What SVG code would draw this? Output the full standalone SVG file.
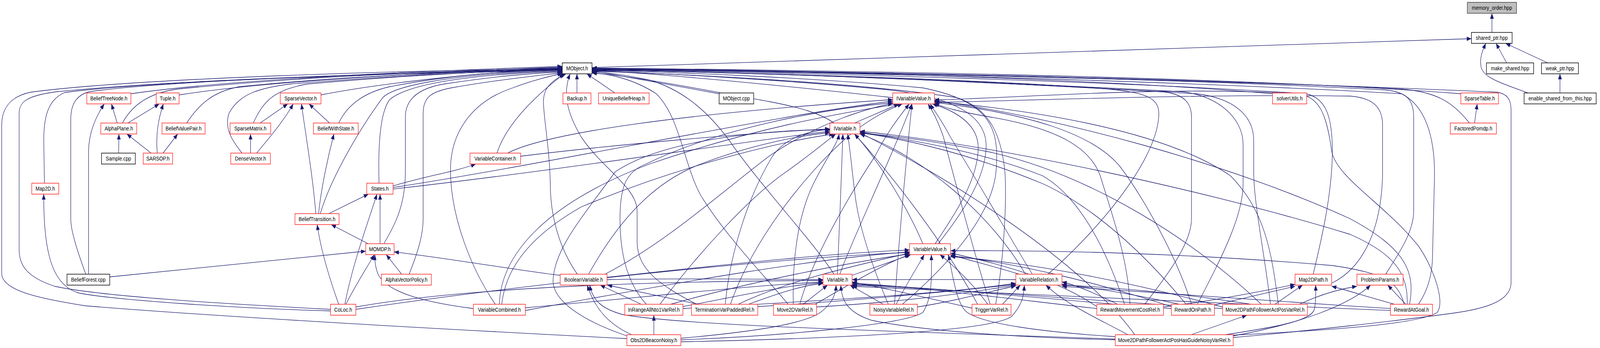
<svg xmlns="http://www.w3.org/2000/svg" width="4675" height="891" viewBox="0 0 4675 891">
<style>
.e{fill:none;stroke:#191970;stroke-width:1.3;marker-end:url(#a)}
.n rect{fill:#fff;stroke:#ff2020;stroke-width:1.5}
.n.k rect{stroke:#000}
.n.g rect{stroke:#404040;stroke-width:2}
.n.r rect{fill:#bfbfbf;stroke:#404040}
text{font-family:"Liberation Sans",Arial,sans-serif;font-size:14px;fill:#000;text-anchor:middle}
</style>
<defs>
<marker id="a" viewBox="0 0 10 10" refX="10" refY="5" markerWidth="14" markerHeight="11" markerUnits="userSpaceOnUse" orient="auto" preserveAspectRatio="none"><path d="M0,0L10,5L0,10z" fill="#191970"/></marker>
</defs>
<rect width="4675" height="891" fill="#fff"/>
<g id="diagram" transform="scale(0.875,1)">
<g id="edges">
<path class="e" d="M4365,83 L4365,34"/>
<path class="e" d="M1732,173 L4305,99"/>
<path class="e" d="M4408,161 L4377,111"/>
<path class="e" d="M4528,161 L4405,111"/>
<path class="e" d="M4471,238 C4400,215 4338,200 4333,170 C4328,145 4340,125 4347,111"/>
<path class="e" d="M4564,238 L4564,189"/>
<path class="e" d="M383,240 C700,200 1300,180 1645,170"/>
<path class="e" d="M524,243 C800,205 1300,184 1645,172"/>
<path class="e" d="M358,315 C380,280 420,240 520,228 C900,195 1300,182 1645,174"/>
<path class="e" d="M546,315 C580,270 620,235 700,222 C1000,195 1350,184 1645,176"/>
<path class="e" d="M741,315 C770,260 800,230 900,215 C1200,192 1400,184 1645,177"/>
<path class="e" d="M708,392 C680,360 655,330 670,290 C700,240 760,225 850,215 C1200,190 1400,184 1645,178"/>
<path class="e" d="M939,243 C1100,215 1400,185 1645,175"/>
<path class="e" d="M991,315 C1010,280 1050,240 1140,222 C1300,195 1450,182 1645,179"/>
<path class="e" d="M1688,238 L1688,189"/>
<path class="e" d="M1799,238 L1717,189"/>
<path class="e" d="M2104,240 L1732,181"/>
<path class="e" d="M2612,250 C2300,220 1950,190 1732,180"/>
<path class="e" d="M2440,315 C2400,290 2340,275 2250,260 C2000,220 1850,195 1732,187"/>
<path class="e" d="M3723,240 C3200,200 2300,180 1732,175"/>
<path class="e" d="M4274,240 C3600,195 2400,180 1732,174"/>
<path class="e" d="M4299,315 C4250,260 4200,235 4100,228 C3500,200 2400,182 1732,175"/>
<path class="e" d="M130,469 L128,360 C128,300 140,255 189,237 C400,210 1200,185 1645,177"/>
<path class="e" d="M251,702 C225,640 207,590 207,560 L207,307 C207,270 220,245 260,235 C500,205 1200,185 1645,178"/>
<path class="e" d="M967,792 C700,780 300,760 160,733 C80,710 56,680 56,640 L56,290 C56,260 80,245 164,235 C500,205 1200,185 1645,179"/>
<path class="e" d="M1834,867 C1500,852 700,815 250,783 C120,765 5,745 5,700 L5,320 C5,270 40,245 90,236 C400,200 1200,180 1645,176"/>
<path class="e" d="M937,547 C970,450 1060,320 1120,250 C1150,222 1300,190 1645,180"/>
<path class="e" d="M1109,469 C1106,380 1110,290 1140,255 C1200,210 1400,190 1645,182"/>
<path class="e" d="M1123,624 C1160,570 1186,520 1186,440 L1186,300 C1186,250 1230,225 1300,215 C1450,195 1550,188 1645,184"/>
<path class="e" d="M1197,702 C1225,640 1238,600 1238,560 L1238,290 C1238,250 1260,235 1320,225 C1450,205 1560,195 1645,186"/>
<path class="e" d="M1454,392 C1480,320 1560,250 1650,189"/>
<path class="e" d="M1449,779 C1380,690 1320,560 1318,440 C1316,340 1380,260 1500,225 C1560,205 1610,195 1645,188"/>
<path class="e" d="M1689,702 C1640,640 1610,560 1610,470 C1608,380 1590,300 1590,260 C1590,225 1615,205 1656,189"/>
<path class="e" d="M2038,779 C1930,730 1865,690 1864,620 L1864,540 C1864,480 1760,430 1700,350 C1660,290 1645,240 1668,189"/>
<path class="e" d="M2306,779 C2230,700 2120,600 2050,500 C2000,420 1990,300 1920,240 C1850,200 1780,190 1732,186"/>
<path class="e" d="M2640,779 C2760,690 2900,560 2914,440 C2925,330 2900,260 2700,225 C2400,200 2000,185 1732,180"/>
<path class="e" d="M2913,779 C2940,650 2945,500 2940,440 C2930,350 2900,280 2800,250 C2500,210 2000,190 1732,182"/>
<path class="e" d="M3066,702 C3200,600 3380,420 3390,300 C3395,250 3360,235 3200,225 C2800,200 2100,185 1732,178"/>
<path class="e" d="M2440,702 C2380,620 2250,500 2150,380 C2080,290 2000,230 1900,205 C1820,190 1770,185 1732,184"/>
<path class="e" d="M2745,624 C2820,540 2880,460 2885,380 C2890,300 2800,250 2600,230 C2300,205 1950,188 1732,181"/>
<path class="e" d="M3842,702 C3870,600 3895,500 3898,400 C3900,300 3880,250 3820,240 C3300,210 2400,186 1732,178"/>
<path class="e" d="M4054,702 C4100,640 4136,590 4136,540 L4136,300 C4136,250 4110,235 4050,230 C3400,200 2400,182 1732,176"/>
<path class="e" d="M4150,779 C4180,740 4190,700 4191,660 L4197,450 C4198,350 4170,270 4100,240 C3400,205 2400,184 1732,177"/>
<path class="e" d="M3608,864 C3800,850 4100,820 4250,802 C4350,790 4421,770 4421,723 L4421,283 C4421,255 4410,240 4380,236 C3600,205 2400,183 1732,176"/>
<path class="e" d="M3349,779 C3420,700 3486,620 3486,560 L3486,300 C3486,260 3460,240 3400,235 C2800,205 2200,185 1732,179"/>
<path class="e" d="M3503,779 C3580,650 3637,550 3637,470 L3637,370 C3637,300 3560,245 3460,235 C2800,205 2200,185 1732,179"/>
<path class="e" d="M3717,779 C3700,650 3668,520 3668,440 L3668,360 C3668,290 3600,250 3500,240 C2800,205 2200,185 1732,179"/>
<path class="e" d="M343,315 L326,266"/>
<path class="e" d="M374,315 L466,266"/>
<path class="e" d="M347,392 L348,343"/>
<path class="e" d="M442,392 L371,343"/>
<path class="e" d="M460,392 C455,340 465,300 478,266"/>
<path class="e" d="M477,392 L520,343"/>
<path class="e" d="M733,392 L733,343"/>
<path class="e" d="M751,392 C790,350 830,310 858,266"/>
<path class="e" d="M761,315 L842,266"/>
<path class="e" d="M964,315 L904,266"/>
<path class="e" d="M924,547 C915,450 895,350 882,266"/>
<path class="e" d="M932,547 C940,480 960,400 977,343"/>
<path class="e" d="M962,547 L1078,497"/>
<path class="e" d="M4314,315 L4322,266"/>
<path class="e" d="M967,796 C700,790 330,768 230,750 C150,730 127,640 128,497"/>
<path class="e" d="M259,702 L259,390 C259,340 280,300 305,266"/>
<path class="e" d="M321,709 L1070,643"/>
<path class="e" d="M1485,392 C1600,340 2000,290 2612,255"/>
<path class="e" d="M1523,400 C1800,370 2200,340 2428,330"/>
<path class="e" d="M1150,476 C1250,450 1330,440 1392,420"/>
<path class="e" d="M1150,480 C1600,420 2300,290 2612,259"/>
<path class="e" d="M1150,484 C1600,440 2200,360 2428,336"/>
<path class="e" d="M991,779 C975,740 940,650 928,575"/>
<path class="e" d="M1009,779 C1030,680 1080,560 1103,497"/>
<path class="e" d="M1012,779 C1040,730 1070,690 1095,652"/>
<path class="e" d="M1041,786 C1400,730 2000,720 2408,718"/>
<path class="e" d="M1041,792 C1600,720 2300,660 2661,646"/>
<path class="e" d="M1112,624 L1112,497"/>
<path class="e" d="M1077,624 L969,575"/>
<path class="e" d="M1175,702 L1130,652"/>
<path class="e" d="M1385,790 C1250,775 1130,750 1105,700 C1097,680 1096,665 1097,652"/>
<path class="e" d="M1461,779 C1465,650 1600,520 1900,420 C2200,330 2450,290 2630,266"/>
<path class="e" d="M1468,779 C1480,680 1560,600 1700,530 C2000,420 2300,360 2440,343"/>
<path class="e" d="M1537,788 C1900,760 2200,730 2408,722"/>
<path class="e" d="M1537,795 C2000,720 2400,660 2661,645"/>
<path class="e" d="M1639,705 C1500,690 1300,660 1153,645"/>
<path class="e" d="M1722,702 C1800,580 1900,470 2050,420 C2200,370 2350,345 2428,340"/>
<path class="e" d="M1770,702 C1950,620 2100,500 2250,400 C2400,310 2550,275 2612,265"/>
<path class="e" d="M1776,710 C2100,680 2400,650 2661,640"/>
<path class="e" d="M1776,716 C2000,712 2250,715 2408,716"/>
<path class="e" d="M1876,779 L1756,730"/>
<path class="e" d="M1891,779 C1830,720 1814,640 1814,560 C1814,480 1830,440 1890,420 C2100,330 2400,280 2612,263"/>
<path class="e" d="M1931,779 C2050,640 2200,500 2300,440 C2380,390 2420,360 2445,343"/>
<path class="e" d="M1998,785 C2150,760 2300,730 2408,724"/>
<path class="e" d="M1998,790 C2400,770 2800,750 2972,725"/>
<path class="e" d="M1962,779 C2200,720 2500,670 2661,650"/>
<path class="e" d="M2043,779 L1777,730"/>
<path class="e" d="M2122,779 C2135,650 2190,500 2260,400 C2300,350 2370,335 2428,331"/>
<path class="e" d="M2137,779 C2200,620 2350,450 2480,350 C2550,300 2600,280 2640,266"/>
<path class="e" d="M2160,779 C2300,720 2500,680 2661,648"/>
<path class="e" d="M2190,779 C2280,750 2350,730 2408,726"/>
<path class="e" d="M2217,785 C2500,770 2800,745 2972,728"/>
<path class="e" d="M2321,779 C2318,680 2330,560 2380,470 C2420,400 2450,370 2455,343"/>
<path class="e" d="M2350,779 L2421,730"/>
<path class="e" d="M2389,786 C2700,770 2900,740 2972,730"/>
<path class="e" d="M2340,779 C2380,650 2500,480 2560,400 C2600,330 2640,290 2660,266"/>
<path class="e" d="M2385,779 C2500,720 2600,670 2661,652"/>
<path class="e" d="M2599,779 C2560,700 2520,600 2505,520 C2495,460 2490,400 2480,343"/>
<path class="e" d="M2584,779 L2487,730"/>
<path class="e" d="M2617,779 C2630,620 2650,420 2668,266"/>
<path class="e" d="M2622,779 C2650,730 2680,690 2704,652"/>
<path class="e" d="M2684,786 C2800,770 2900,745 2972,732"/>
<path class="e" d="M2890,779 C2840,720 2790,680 2750,652"/>
<path class="e" d="M2897,779 C2850,650 2790,450 2760,350 C2740,300 2725,280 2715,266"/>
<path class="e" d="M2933,779 L2985,730"/>
<path class="e" d="M2844,789 C2700,760 2600,740 2493,722"/>
<path class="e" d="M2860,779 C2750,600 2580,420 2500,343"/>
<path class="e" d="M2972,716 C2800,715 2600,716 2493,716"/>
<path class="e" d="M2982,702 C2900,680 2830,665 2781,652"/>
<path class="e" d="M3020,702 C2950,600 2850,450 2780,350 C2750,300 2730,280 2722,266"/>
<path class="e" d="M3000,702 C2900,550 2700,400 2516,343"/>
<path class="e" d="M2493,705 L2665,652"/>
<path class="e" d="M2450,702 C2455,600 2462,450 2466,343"/>
<path class="e" d="M2457,702 C2500,600 2600,420 2668,266"/>
<path class="e" d="M2736,624 C2800,540 2860,460 2862,380 C2863,320 2800,285 2728,266"/>
<path class="e" d="M2700,624 C2650,520 2560,400 2500,343"/>
<path class="e" d="M2500,315 L2630,266"/>
<path class="e" d="M3608,858 C3900,845 4150,830 4205,800 C4230,770 4190,680 4150,630 C4050,520 3900,450 3895,380 C3880,290 3860,250 3800,240 C3400,220 3000,250 2734,256"/>
<path class="e" d="M3896,725 C3980,690 4040,600 4045,450 L4045,320 C4045,270 4010,250 3950,246 C3500,240 3000,258 2734,262"/>
<path class="e" d="M3585,857 C3750,835 3840,820 3846,790 C3850,770 3850,750 3849,730"/>
<path class="e" d="M3485,857 L3648,807"/>
<path class="e" d="M3608,860 C3800,830 3950,780 4010,730"/>
<path class="e" d="M3263,868 C2700,850 2000,835 1820,805 C1760,790 1735,770 1725,730"/>
<path class="e" d="M3263,870 C3000,865 2700,848 2550,820 C2480,800 2462,770 2460,730"/>
<path class="e" d="M3300,857 C3200,810 3120,780 3060,730"/>
<path class="e" d="M3263,862 C3050,850 2880,830 2830,800 C2800,780 2790,720 2775,652"/>
<path class="e" d="M3320,857 C3150,650 2700,420 2516,340"/>
<path class="e" d="M1913,857 L1913,807"/>
<path class="e" d="M1848,857 C1780,830 1740,790 1718,730"/>
<path class="e" d="M1834,860 C1700,820 1620,770 1618,720 C1620,640 1700,560 1800,440 C1950,350 2300,330 2428,333"/>
<path class="e" d="M1992,870 C2300,860 2650,830 2700,800 C2730,760 2725,700 2725,652"/>
<path class="e" d="M1992,866 C2200,850 2350,830 2400,800 C2430,780 2445,760 2446,730"/>
<path class="e" d="M1992,875 C2400,868 2900,850 2960,810 C2990,780 2995,760 2997,730"/>
<path class="e" d="M3306,779 C3300,660 3250,540 3219,450 C3190,380 3100,330 2900,300 C2800,285 2760,275 2734,264"/>
<path class="e" d="M3290,779 C3230,620 3150,500 3050,450 C2850,380 2600,350 2516,338"/>
<path class="e" d="M3270,779 C3200,750 3150,730 3107,722"/>
<path class="e" d="M3209,790 C3000,770 2700,735 2493,725"/>
<path class="e" d="M3209,785 C3100,720 2950,680 2781,648"/>
<path class="e" d="M3404,786 C3550,770 3700,745 3789,728"/>
<path class="e" d="M3486,779 C3440,650 3340,500 3280,430 C3200,340 3000,290 2734,262"/>
<path class="e" d="M3470,779 C3350,650 3200,530 3050,470 C2800,380 2600,350 2516,340"/>
<path class="e" d="M3450,779 C3300,750 3180,735 3107,728"/>
<path class="e" d="M3427,790 C3100,770 2750,735 2493,728"/>
<path class="e" d="M3427,785 C3200,720 2950,670 2781,655"/>
<path class="e" d="M3553,781 L3789,733"/>
<path class="e" d="M3730,779 L3811,730"/>
<path class="e" d="M3802,779 C3860,755 3920,740 3970,733"/>
<path class="e" d="M3690,779 C3500,620 3200,450 2900,390 C2700,355 2580,345 2516,341"/>
<path class="e" d="M3660,779 C3450,750 3250,735 3107,730"/>
<path class="e" d="M3577,790 C3200,770 2800,740 2493,730"/>
<path class="e" d="M3577,786 C3300,720 3000,670 2781,657"/>
<path class="e" d="M3740,779 C3720,640 3700,540 3600,450 C3400,330 3000,280 2734,260"/>
<path class="e" d="M4080,779 C4000,760 3950,745 3896,733"/>
<path class="e" d="M4113,779 L4060,730"/>
<path class="e" d="M4108,779 C4090,720 4050,700 3900,680 C3500,650 3100,640 2781,642"/>
<path class="e" d="M4117,779 C4120,700 4080,650 3950,600 C3500,480 2900,370 2516,336"/>
<path class="e" d="M4124,779 C4140,700 4120,640 3950,560 C3600,420 3100,300 2734,258"/>
<path class="e" d="M4068,790 C3700,770 3300,745 3107,733"/>
<path class="e" d="M4068,795 C3500,775 2900,745 2493,733"/>
</g>
<g id="memory_order_hpp" class="n r"><rect x="4293" y="6" width="144" height="28"/><text x="4365" y="25">memory_order.hpp</text></g>
<g id="shared_ptr_hpp" class="n k"><rect x="4305" y="83" width="119" height="28"/><text x="4364.5" y="102">shared_ptr.hpp</text></g>
<g id="make_shared_hpp" class="n k"><rect x="4349" y="161" width="138" height="28"/><text x="4418" y="180">make_shared.hpp</text></g>
<g id="weak_ptr_hpp" class="n k"><rect x="4510" y="161" width="108" height="28"/><text x="4564" y="180">weak_ptr.hpp</text></g>
<g id="enable_shared_from_this_hpp" class="n k"><rect x="4459" y="238" width="211" height="28"/><text x="4564.5" y="257">enable_shared_from_this.hpp</text></g>
<g id="MObject_h" class="n k"><rect x="1645" y="161" width="87" height="28"/><text x="1688.5" y="180">MObject.h</text></g>
<g id="BeliefTreeNode_h" class="n"><rect x="254" y="238" width="129" height="28"/><text x="318.5" y="257">BeliefTreeNode.h</text></g>
<g id="Tuple_h" class="n"><rect x="457" y="238" width="67" height="28"/><text x="490.5" y="257">Tuple.h</text></g>
<g id="SparseVector_h" class="n"><rect x="820" y="238" width="119" height="28"/><text x="879.5" y="257">SparseVector.h</text></g>
<g id="Backup_h" class="n"><rect x="1647" y="238" width="82" height="28"/><text x="1688" y="257">Backup.h</text></g>
<g id="UniqueBeliefHeap_h" class="n"><rect x="1751" y="238" width="148" height="28"/><text x="1825" y="257">UniqueBeliefHeap.h</text></g>
<g id="MObject_cpp" class="n g"><rect x="2104" y="238" width="101" height="28"/><text x="2154.5" y="257">MObject.cpp</text></g>
<g id="IVariableValue_h" class="n"><rect x="2612" y="238" width="122" height="28"/><text x="2673" y="257">IVariableValue.h</text></g>
<g id="solverUtils_h" class="n"><rect x="3723" y="238" width="100" height="28"/><text x="3773" y="257">solverUtils.h</text></g>
<g id="SparseTable_h" class="n"><rect x="4274" y="238" width="110" height="28"/><text x="4329" y="257">SparseTable.h</text></g>
<g id="AlphaPlane_h" class="n"><rect x="295" y="315" width="105" height="28"/><text x="347.5" y="334">AlphaPlane.h</text></g>
<g id="BeliefValuePair_h" class="n"><rect x="474" y="315" width="126" height="28"/><text x="537" y="334">BeliefValuePair.h</text></g>
<g id="SparseMatrix_h" class="n"><rect x="673" y="315" width="119" height="28"/><text x="732.5" y="334">SparseMatrix.h</text></g>
<g id="BeliefWithState_h" class="n"><rect x="917" y="315" width="131" height="28"/><text x="982.5" y="334">BeliefWithState.h</text></g>
<g id="IVariable_h" class="n"><rect x="2428" y="315" width="88" height="28"/><text x="2472" y="334">IVariable.h</text></g>
<g id="FactoredPomdp_h" class="n"><rect x="4243" y="315" width="135" height="28"/><text x="4310.5" y="334">FactoredPomdp.h</text></g>
<g id="Sample_cpp" class="n g"><rect x="297" y="392" width="99" height="28"/><text x="346.5" y="411">Sample.cpp</text></g>
<g id="SARSOP_h" class="n"><rect x="419" y="392" width="86" height="28"/><text x="462" y="411">SARSOP.h</text></g>
<g id="DenseVector_h" class="n"><rect x="675" y="392" width="116" height="28"/><text x="733" y="411">DenseVector.h</text></g>
<g id="VariableContainer_h" class="n"><rect x="1375" y="392" width="148" height="28"/><text x="1449" y="411">VariableContainer.h</text></g>
<g id="Map2D_h" class="n"><rect x="93" y="469" width="79" height="28"/><text x="132.5" y="488">Map2D.h</text></g>
<g id="States_h" class="n"><rect x="1073" y="469" width="77" height="28"/><text x="1111.5" y="488">States.h</text></g>
<g id="BeliefTransition_h" class="n"><rect x="863" y="547" width="129" height="28"/><text x="927.5" y="566">BeliefTransition.h</text></g>
<g id="MOMDP_h" class="n"><rect x="1070" y="624" width="83" height="28"/><text x="1111.5" y="643">MOMDP.h</text></g>
<g id="VariableValue_h" class="n"><rect x="2661" y="624" width="120" height="28"/><text x="2721" y="643">VariableValue.h</text></g>
<g id="BeliefForest_cpp" class="n g"><rect x="196" y="702" width="125" height="28"/><text x="258.5" y="721">BeliefForest.cpp</text></g>
<g id="AlphaVectorPolicy_h" class="n"><rect x="1116" y="702" width="146" height="28"/><text x="1189" y="721">AlphaVectorPolicy.h</text></g>
<g id="BooleanVariable_h" class="n"><rect x="1639" y="702" width="137" height="28"/><text x="1707.5" y="721">BooleanVariable.h</text></g>
<g id="Variable_h" class="n"><rect x="2408" y="702" width="85" height="28"/><text x="2450.5" y="721">Variable.h</text></g>
<g id="VariableRelation_h" class="n"><rect x="2972" y="702" width="135" height="28"/><text x="3039.5" y="721">VariableRelation.h</text></g>
<g id="Map2DPath_h" class="n"><rect x="3789" y="702" width="107" height="28"/><text x="3842.5" y="721">Map2DPath.h</text></g>
<g id="ProblemParams_h" class="n"><rect x="3970" y="702" width="135" height="28"/><text x="4037.5" y="721">ProblemParams.h</text></g>
<g id="CoLoc_h" class="n"><rect x="967" y="779" width="74" height="28"/><text x="1004" y="798">CoLoc.h</text></g>
<g id="VariableCombined_h" class="n"><rect x="1385" y="779" width="152" height="28"/><text x="1461" y="798">VariableCombined.h</text></g>
<g id="InRangeAllNto1VarRel_h" class="n"><rect x="1828" y="779" width="170" height="28"/><text x="1913" y="798">InRangeAllNto1VarRel.h</text></g>
<g id="TerminationVarPaddedRel_h" class="n"><rect x="2023" y="779" width="194" height="28"/><text x="2120" y="798">TerminationVarPaddedRel.h</text></g>
<g id="Move2DVarRel_h" class="n"><rect x="2263" y="779" width="126" height="28"/><text x="2326" y="798">Move2DVarRel.h</text></g>
<g id="NoisyVariableRel_h" class="n"><rect x="2545" y="779" width="139" height="28"/><text x="2614.5" y="798">NoisyVariableRel.h</text></g>
<g id="TriggerVarRel_h" class="n"><rect x="2844" y="779" width="114" height="28"/><text x="2901" y="798">TriggerVarRel.h</text></g>
<g id="RewardMovementCostRel_h" class="n"><rect x="3209" y="779" width="195" height="28"/><text x="3306.5" y="798">RewardMovementCostRel.h</text></g>
<g id="RewardOnPath_h" class="n"><rect x="3427" y="779" width="126" height="28"/><text x="3490" y="798">RewardOnPath.h</text></g>
<g id="Move2DPathFollowerActPosVarRel_h" class="n"><rect x="3577" y="779" width="248" height="28"/><text x="3701" y="798">Move2DPathFollowerActPosVarRel.h</text></g>
<g id="RewardAtGoal_h" class="n"><rect x="4068" y="779" width="123" height="28"/><text x="4129.5" y="798">RewardAtGoal.h</text></g>
<g id="Obs2DBeaconNoisy_h" class="n"><rect x="1834" y="857" width="158" height="28"/><text x="1913" y="876">Obs2DBeaconNoisy.h</text></g>
<g id="Move2DPathFollowerActPosHasGuideNoisyVarRel_h" class="n"><rect x="3263" y="857" width="345" height="28"/><text x="3435.5" y="876">Move2DPathFollowerActPosHasGuideNoisyVarRel.h</text></g>
</g>
</svg>
